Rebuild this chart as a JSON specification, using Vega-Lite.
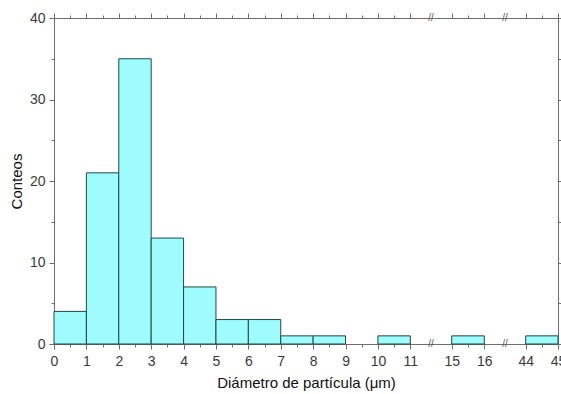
{
  "$schema": "https://vega.github.io/schema/vega-lite/v6.json",
  "width": 504,
  "height": 326,
  "autosize": {"type": "none"},
  "padding": {"left": 54, "top": 18, "right": 3, "bottom": 50},
  "background": "white",
  "config": {
    "view": {"stroke": null},
    "font": "Liberation Sans",
    "axis": {
      "domainColor": "#6e6e6e",
      "tickColor": "#6e6e6e",
      "labelColor": "#3a3a3a",
      "labelFont": "Liberation Sans",
      "labelFontSize": 14,
      "titleFont": "Liberation Sans",
      "titleFontSize": 15,
      "titleFontWeight": "normal",
      "titleColor": "#111111",
      "grid": false
    }
  },
  "datasets": {
    "bins": [
      {"desde": 0, "hasta": 1, "conteo": 4},
      {"desde": 1, "hasta": 2, "conteo": 21},
      {"desde": 2, "hasta": 3, "conteo": 35},
      {"desde": 3, "hasta": 4, "conteo": 13},
      {"desde": 4, "hasta": 5, "conteo": 7},
      {"desde": 5, "hasta": 6, "conteo": 3},
      {"desde": 6, "hasta": 7, "conteo": 3},
      {"desde": 7, "hasta": 8, "conteo": 1},
      {"desde": 8, "hasta": 9, "conteo": 1},
      {"desde": 10, "hasta": 11, "conteo": 1},
      {"desde": 15, "hasta": 16, "conteo": 1},
      {"desde": 44, "hasta": 45, "conteo": 1}
    ],
    "cortes": [
      {"x": 13, "y": 0},
      {"x": 30, "y": 0},
      {"x": 13, "y": 40},
      {"x": 30, "y": 40}
    ]
  },
  "layer": [
    {
      "data": {"name": "bins"},
      "mark": {"type": "rect", "fill": "#9ffcfc", "stroke": "#1f4848", "strokeWidth": 1},
      "encoding": {
        "x": {
          "field": "desde",
          "type": "quantitative",
          "scale": {"domain": [0, 11, 15, 16, 44, 45], "range": [0, 356.3, 397.7, 430.3, 471.7, 504], "nice": false, "zero": false},
          "axis": {
            "orient": "bottom",
            "title": "Diámetro de partícula (μm)",
            "values": [0, 0.5, 1, 1.5, 2, 2.5, 3, 3.5, 4, 4.5, 5, 5.5, 6, 6.5, 7, 7.5, 8, 8.5, 9, 9.5, 10, 10.5, 11, 15, 15.5, 16, 44, 44.5, 45],
            "labelExpr": "datum.value % 1 === 0 ? datum.label : ''",
            "tickSize": {"condition": {"test": "datum.value % 1 === 0", "value": 5}, "value": 3},
            "labelPadding": 5,
            "titlePadding": 7,
            "labelFlush": false,
            "labelOverlap": false
          }
        },
        "x2": {"field": "hasta"},
        "y": {
          "field": "conteo",
          "type": "quantitative",
          "scale": {"domain": [0, 40], "nice": false},
          "axis": {
            "orient": "left",
            "title": "Conteos",
            "values": [0, 5, 10, 15, 20, 25, 30, 35, 40],
            "labelExpr": "datum.value % 10 === 0 ? datum.label : ''",
            "tickSize": {"condition": {"test": "datum.value % 10 === 0", "value": 5}, "value": 3},
            "labelPadding": 4,
            "titlePadding": 5
          }
        },
        "y2": {"datum": 0}
      }
    },
    {
      "data": {"name": "bins"},
      "mark": {"type": "rect", "opacity": 0},
      "encoding": {
        "x": {
          "field": "desde",
          "type": "quantitative",
          "axis": {
            "orient": "top",
            "title": null,
            "labels": false,
            "values": [0, 0.5, 1, 1.5, 2, 2.5, 3, 3.5, 4, 4.5, 5, 5.5, 6, 6.5, 7, 7.5, 8, 8.5, 9, 9.5, 10, 10.5, 11, 15, 15.5, 16, 44, 44.5, 45],
            "tickSize": {"condition": {"test": "datum.value % 1 === 0", "value": 5}, "value": 3}
          }
        },
        "x2": {"field": "hasta"},
        "y": {
          "field": "conteo",
          "type": "quantitative",
          "axis": {
            "orient": "right",
            "title": null,
            "labels": false,
            "values": [0, 5, 10, 15, 20, 25, 30, 35, 40],
            "tickSize": {"condition": {"test": "datum.value % 10 === 0", "value": 5}, "value": 3}
          }
        },
        "y2": {"datum": 0}
      }
    },
    {
      "data": {"name": "cortes"},
      "mark": {"type": "text", "text": "//", "fontSize": 10, "color": "#555555", "baseline": "middle", "align": "center"},
      "encoding": {
        "x": {"field": "x", "type": "quantitative", "axis": null},
        "y": {"field": "y", "type": "quantitative", "axis": null}
      }
    }
  ],
  "resolve": {"axis": {"x": "independent", "y": "independent"}}
}
